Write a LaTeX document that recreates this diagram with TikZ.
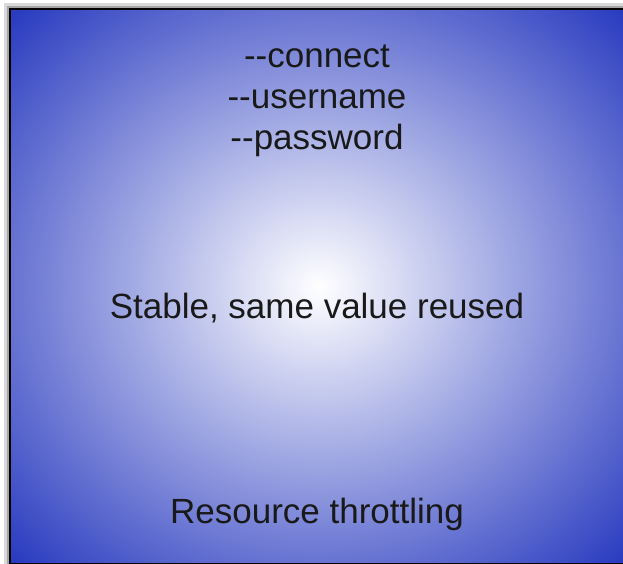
\documentclass[tikz,border=0pt]{standalone}
\usepackage{fontspec}
\setmainfont{Liberation Sans}
\pgfdeclareradialshading{boxglow}{\pgfpointorigin}{rgb(0bp)=(1,1,1); rgb(35bp)=(0.16,0.23,0.75); rgb(50bp)=(0.16,0.23,0.75)}
\begin{document}
\begin{tikzpicture}[x=1pt,y=1pt,
  lbl/.style={anchor=base, inner sep=0pt, text=black!90, font=\fontsize{35}{41}\selectfont}]
\useasboundingbox (0,0) rectangle (623,563);
\clip (0,0) rectangle (623,563);
\fill[white] (0,0) rectangle (623,563);
% shadow
\draw[black!15, line width=4pt] (6,-2) -- (6,558) -- (630,558);
\draw[black!35, line width=1.5pt] (7.8,-2) -- (7.8,556.2) -- (630,556.2);
% box
\draw[shading=boxglow, draw=black, line width=2.6pt] (10,554) rectangle (628,-1);
% texts
\node[lbl] (n1) at (317,495) {-{}-connect};
\node[lbl] (n2) at (317,454) {-{}-username};
\node[lbl] (n3) at (317,413) {-{}-password};
\node[lbl] (n4) at (317,245) {Stable, same value reused};
\node[lbl] (n5) at (317,40) {Resource throttling};
\end{tikzpicture}
\end{document}
